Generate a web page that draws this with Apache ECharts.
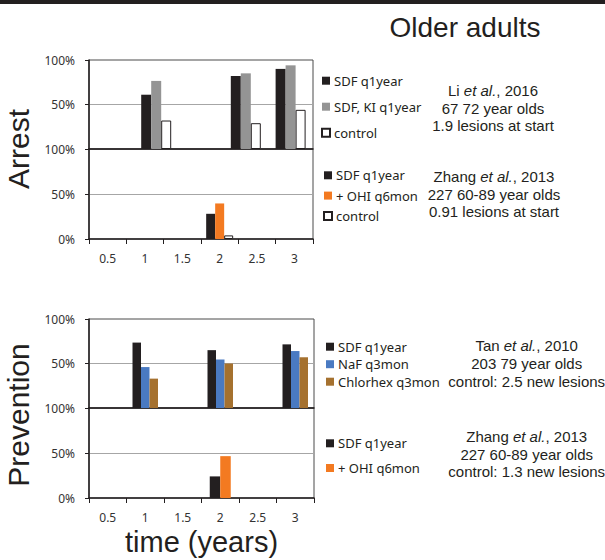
<!DOCTYPE html>
<html>
<head>
<meta charset="utf-8">
<script src="https://cdn.jsdelivr.net/npm/echarts@6/dist/echarts.min.js"></script>
<style>
html,body{margin:0;padding:0;background:#fff;}
#chart{width:605px;height:560px;}
</style>
</head>
<body>
<div id="chart"></div>
<script>
// ---- data ----
const liTimes = ['0.5', '1', '1.5', '2', '2.5'];
const timeLabels = ['0.5', '1', '1.5', '2', '2.5', '3'];

// Arrest – Li et al., 2016
const liSDF = [null, 61, null, 82, 90];
const liSDFKI = [null, 76.5, null, 85, 94];
const liControl = [null, 32, null, 29, 44];

// Arrest – Zhang et al., 2013
const zhangArrestSDF = [null, null, null, 28, null, null];
const zhangArrestOHI = [null, null, null, 39.5, null, null];
const zhangArrestControl = [null, null, null, 4, null, null];

// Prevention – Tan et al., 2010
const tanSDF = [null, 73.5, null, 65, null, 71.5];
const tanNaF = [null, 46, null, 54.5, null, 64];
const tanChlorhex = [null, 33, null, 50, null, 57];

// Prevention – Zhang et al., 2013
const zhangPrevSDF = [null, null, null, 24, null, null];
const zhangPrevOHI = [null, null, null, 46.5, null, null];

const yTicks = [0, 50, 100];

// ---- styling ----
const BLACK = '#231f20', GRAY = '#949494', ORANGE = '#f37a21', BLUE = '#4a7ac2', BROWN = '#a5712f';
const tickFont = 'Noto Sans';
const textFont = 'Liberation Sans';

const chart = echarts.init(document.getElementById('chart'), null, {renderer: 'svg'});

const grids = [
  {left: 89, top: 60, width: 224, height: 89},
  {left: 89, top: 149, width: 224, height: 90},
  {left: 89, top: 319, width: 225, height: 89},
  {left: 89, top: 408, width: 225, height: 90}
].map(g => Object.assign({show: true, borderColor: '#4a4a4a', borderWidth: 1, backgroundColor: 'transparent'}, g));

function yAxis(i, showMin) {
  return {
    gridIndex: i, type: 'value', min: yTicks[0], max: yTicks[yTicks.length - 1], interval: yTicks[1] - yTicks[0],
    axisLine: {show: true, lineStyle: {color: BLACK, width: 1.5}},
    axisTick: {show: true, length: 4, lineStyle: {color: BLACK}},
    axisLabel: {formatter: '{value}%', fontSize: 12, color: '#333', margin: 14, fontFamily: tickFont, showMinLabel: showMin},
    splitLine: {show: true, lineStyle: {color: ['rgba(0,0,0,0)', '#a6a6a6', 'rgba(0,0,0,0)'], width: 1}}
  };
}
function xAxis(i, data, labels, extra) {
  return Object.assign({
    gridIndex: i, type: 'category', data: data,
    axisLine: {show: true, lineStyle: {color: BLACK, width: 1.5}},
    axisTick: {show: labels, length: 5, lineStyle: {color: BLACK}},
    axisLabel: {show: labels, fontSize: 12, color: '#333', margin: 13, fontFamily: tickFont},
    splitLine: {show: false}
  }, extra || {});
}

function bar(name, xi, data, color, width, border) {
  return {
    name: name, type: 'bar', xAxisIndex: xi, yAxisIndex: xi, data: data,
    barWidth: width, barGap: '0%',
    itemStyle: border ? {color: '#fff', borderColor: BLACK, borderWidth: 1} : {color: color},
    emphasis: {disabled: true}
  };
}

function legend(names, left, top, gap) {
  return {
    data: names, orient: 'vertical', left: left, top: top, padding: 0,
    itemWidth: 8, itemHeight: 8, itemGap: gap, icon: 'rect', selectedMode: false,
    textStyle: {fontSize: 13, color: '#231f20', fontFamily: tickFont, lineHeight: 14, padding: [0, 0, 0, -1]}
  };
}

const rich = {
  n: {fontSize: 15, fontFamily: textFont, fill: '#231f20', lineHeight: 17.7},
  i: {fontSize: 15, fontFamily: textFont, fontStyle: 'italic', fill: '#231f20', lineHeight: 17.7}
};
function note(x, y, text) {
  return {type: 'text', x: x, y: y, style: {text: text, rich: rich, align: 'center', verticalAlign: 'middle', fill: '#231f20'}};
}

const option = {
  animation: false,
  backgroundColor: '#fff',
  title: {
    text: 'Older adults', left: 465, top: 13, textAlign: 'center', padding: 0,
    textStyle: {fontSize: 28, fontWeight: 'normal', color: '#231f20', fontFamily: textFont}
  },
  grid: grids,
  xAxis: [
    xAxis(0, liTimes, false),
    xAxis(1, timeLabels, true),
    xAxis(2, timeLabels, false),
    xAxis(3, timeLabels, true, {
      name: 'time (years)', nameLocation: 'middle', nameGap: 29,
      nameTextStyle: {fontSize: 29, color: '#231f20', fontFamily: textFont}
    })
  ],
  yAxis: [yAxis(0, false), yAxis(1, true), yAxis(2, false), yAxis(3, true)],
  legend: [
    legend(['SDF q1year', 'SDF, KI q1year', 'control'], 321, 73.7, 12),
    legend(['SDF q1year', '+ OHI q6mon', 'control'], 323, 168.3, 6.3),
    legend(['SDF q1year', 'NaF q3mon', 'Chlorhex q3mon'], 326, 339.7, 3.5),
    legend(['SDF q1year', '+ OHI q6mon'], 326, 436.3, 10.7)
  ],
  series: [
    bar('SDF q1year', 0, liSDF, BLACK, 10),
    bar('SDF, KI q1year', 0, liSDFKI, GRAY, 10),
    bar('control', 0, liControl, null, 10, true),
    bar('SDF q1year', 1, zhangArrestSDF, BLACK, 9),
    bar('+ OHI q6mon', 1, zhangArrestOHI, ORANGE, 9),
    bar('control', 1, zhangArrestControl, null, 9, true),
    bar('SDF q1year', 2, tanSDF, BLACK, 8.5),
    bar('NaF q3mon', 2, tanNaF, BLUE, 8.5),
    bar('Chlorhex q3mon', 2, tanChlorhex, BROWN, 8.5),
    bar('SDF q1year', 3, zhangPrevSDF, BLACK, 10.5),
    bar('+ OHI q6mon', 3, zhangPrevOHI, ORANGE, 10.5)
  ],
  graphic: [
    {type: 'rect', shape: {x: 0, y: 0, width: 605, height: 4}, style: {fill: '#231f20'}},
    {type: 'text', x: 18.5, y: 149, rotation: Math.PI / 2,
     style: {text: 'Arrest', fontSize: 30, fontFamily: textFont, fill: '#231f20', align: 'center', verticalAlign: 'middle'}},
    {type: 'text', x: 18.5, y: 415, rotation: Math.PI / 2,
     style: {text: 'Prevention', fontSize: 30, fontFamily: textFont, fill: '#231f20', align: 'center', verticalAlign: 'middle'}},
    note(493, 108.3, '{n|Li }{i|et al.}{n|, 2016}\n{n|67 72 year olds}\n{n|1.9 lesions at start}'),
    note(494, 194.3, '{n|Zhang }{i|et al.}{n|, 2013}\n{n|227 60-89 year olds}\n{n|0.91 lesions at start}'),
    note(526.7, 363.6, '{n|Tan }{i|et al.}{n|, 2010}\n{n|203 79 year olds}\n{n|control: 2.5 new lesions}'),
    note(526.7, 454, '{n|Zhang }{i|et al.}{n|, 2013}\n{n|227 60-89 year olds}\n{n|control: 1.3 new lesions}')
  ]
};
chart.setOption(option);
</script>
</body>
</html>
